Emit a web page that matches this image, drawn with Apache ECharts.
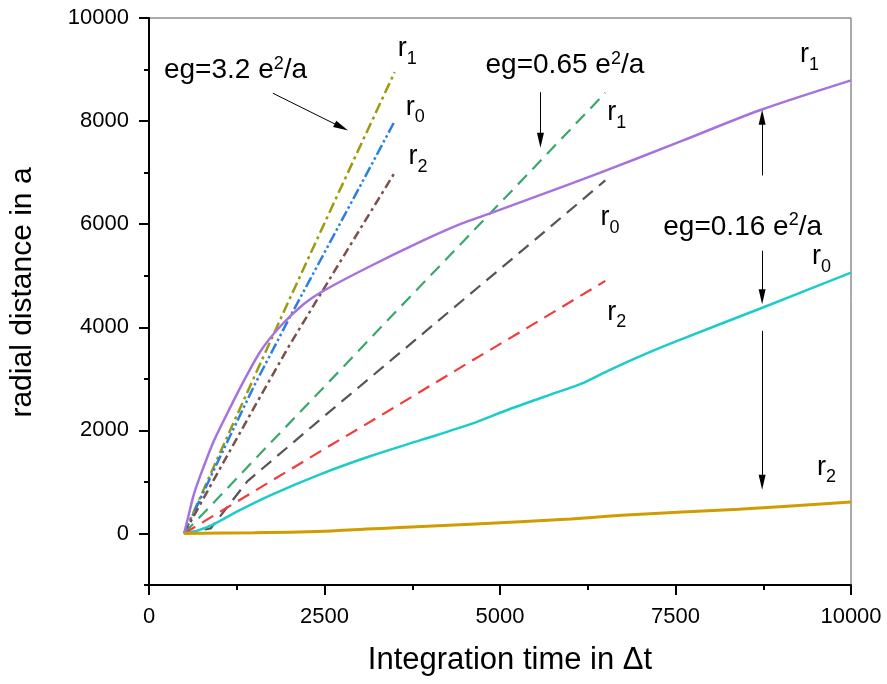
<!DOCTYPE html>
<html>
<head>
<meta charset="utf-8">
<script src="https://cdn.jsdelivr.net/npm/echarts@6/dist/echarts.min.js"></script>
<style>
  html, body { margin: 0; padding: 0; background: #fff; }
  #chart { width: 887px; height: 684px; }
</style>
</head>
<body>
<div id="chart"></div>
<script>
const FONT = '"Liberation Sans", Arial, Helvetica, sans-serif';

// ---- eg = 3.2 e^2/a (dash-dot curves) ----
const t32   = [500, 1000, 1500, 2000, 2500, 3000, 3500];
const r1_32 = [0, 1530, 3040, 4540, 6020, 7490, 8950];
const r0_32 = [0, 1450, 2870, 4180, 5450, 6720, 8000];
const r2_32 = [0, 1230, 2450, 3650, 4770, 5890, 7000];

// ---- eg = 0.65 e^2/a (dashed curves) ----
const t065_r1 = [500, 1000, 1500, 2500, 3500, 4500, 5500, 6500];
const r1_065  = [0, 710, 1430, 2850, 4280, 5700, 7120, 8550];
const t065_r0 = [500, 880, 1400, 2500, 3500, 4500, 5500, 6500];
const r0_065  = [0, 100, 1010, 2280, 3420, 4560, 5700, 6850];
const t065_r2 = [500, 1000, 1500, 2500, 3500, 4500, 5500, 6500];
const r2_065  = [0, 410, 820, 1640, 2450, 3270, 4080, 4900];

// ---- eg = 0.16 e^2/a (solid curves) ----
const t016_r1 = [500, 555, 640, 780, 925, 1166, 1351, 1593, 1878, 2205, 2450, 3100, 3900, 4450, 4820, 5480, 6430, 7600, 8700, 10000];
const r1_016  = [0, 300, 765, 1300, 1800, 2470, 2960, 3545, 4030, 4450, 4680, 5150, 5680, 6010, 6190, 6520, 7000, 7620, 8210, 8790];
const t016_r0 = [500, 700, 925, 1266, 1735, 2447, 3158, 3869, 4580, 5150, 5860, 6150, 6530, 7000, 7525, 8700, 10000];
const r0_016  = [0, 60, 180, 433, 745, 1152, 1502, 1810, 2120, 2420, 2760, 2900, 3150, 3440, 3735, 4360, 5060];
const t016_r2 = [500, 1500, 2600, 3500, 4580, 6000, 6800, 8400, 10000];
const r2_016  = [0, 15, 50, 110, 180, 280, 360, 470, 610];

// ---- axis ticks ----
const xTickValues  = [0, 2500, 5000, 7500, 10000];
const yMajorTicks  = [0, 2000, 4000, 6000, 8000, 10000];
const yMinorTicks  = [-1000, 1000, 3000, 5000, 7000, 9000];

// ---- annotation texts (data coordinates of the left edge / vertical middle) ----
const egLabels = [
  { x: 213,  y: 8979, value: '3.2' },
  { x: 4794, y: 9077, value: '0.65' },
  { x: 7326, y: 5946, value: '0.16' }
];
const rLabels = [
  { x: 3542, y: 9407, idx: '1' },
  { x: 3656, y: 8270, idx: '0' },
  { x: 3698, y: 7308, idx: '2' },
  { x: 6529, y: 8163, idx: '1' },
  { x: 6430, y: 6121, idx: '0' },
  { x: 6529, y: 4293, idx: '2' },
  { x: 9275, y: 9290, idx: '1' },
  { x: 9445, y: 5363, idx: '0' },
  { x: 9516, y: 1279, idx: '2' }
];
// arrows: start point, end point (the arrow head sits at the end)
const arrows = [
  [[1764, 8541], [2741, 7881]],
  [[5576, 8560], [5576, 7626]],
  [[8734, 6946], [8734, 8074]],
  [[8734, 5486], [8734, 4591]],
  [[8734, 3930], [8734, 992]]
];

function zip(xs, ys) { return xs.map((x, i) => [x, ys[i]]); }

function lineSeries(name, xs, ys, color, type, width, smooth) {
  return {
    name: name,
    type: 'line',
    data: zip(xs, ys),
    showSymbol: false,
    symbol: 'none',
    smooth: smooth || false,
    lineStyle: { color: color, width: width, type: type, cap: 'butt' },
    itemStyle: { color: color },
    emphasis: { disabled: true },
    z: 3
  };
}

const chart = echarts.init(document.getElementById('chart'), null, { renderer: 'canvas' });

const series = [
  lineSeries('r1 (3.2)', t32, r1_32, '#9b9b10', [11, 4, 3, 4], 2.5),
  lineSeries('r0 (3.2)', t32, r0_32, '#2a7fe6', [11, 3, 2.5, 3, 2.5, 3], 2.5),
  lineSeries('r2 (3.2)', t32, r2_32, '#7d4f4c', [9, 4, 3, 4], 2.5),
  lineSeries('r1 (0.65)', t065_r1, r1_065, '#3aa86a', [13, 8], 2.2),
  lineSeries('r0 (0.65)', t065_r0, r0_065, '#555555', [13, 8], 2.2),
  lineSeries('r2 (0.65)', t065_r2, r2_065, '#f03c3c', [13, 8], 2.2),
  lineSeries('r1 (0.16)', t016_r1, r1_016, '#a673de', 'solid', 2.5, 0.3),
  lineSeries('r0 (0.16)', t016_r0, r0_016, '#1ccbcc', 'solid', 2.5, 0.3),
  lineSeries('r2 (0.16)', t016_r2, r2_016, '#d09c00', 'solid', 3, 0.3)
];

// arrows drawn as mark lines in data space
series[series.length - 1].markLine = {
  silent: true,
  animation: false,
  symbol: ['none', 'triangle'],
  symbolSize: [7, 15],
  label: { show: false },
  lineStyle: { color: '#000', width: 1, type: 'solid' },
  emphasis: { disabled: true },
  data: arrows.map(a => [{ coord: a[0] }, { coord: a[1] }])
};

chart.setOption({
  animation: false,
  backgroundColor: '#fff',
  grid: {
    left: 148, right: 36, top: 18, bottom: 99,
    show: true, borderColor: '#555', borderWidth: 1, backgroundColor: 'transparent'
  },
  xAxis: {
    type: 'value',
    min: 0, max: 10000, interval: 2500,
    name: 'Integration time in \u0394t',
    nameLocation: 'middle',
    nameGap: 60,
    nameTextStyle: { fontFamily: FONT, fontSize: 31, color: '#000', padding: [0, 0, 0, 20] },
    axisLine: { show: true, onZero: false, lineStyle: { color: '#000', width: 2 } },
    axisTick: { show: true, inside: false, length: 10, lineStyle: { color: '#000', width: 2 } },
    minorTick: { show: true, splitNumber: 2, length: 5, lineStyle: { color: '#000', width: 2 } },
    axisLabel: {
      fontFamily: FONT, fontSize: 22, color: '#000', margin: 21,
      customValues: xTickValues,
      formatter: v => String(v)
    },
    splitLine: { show: false },
    minorSplitLine: { show: false }
  },
  yAxis: [
    {
      type: 'value',
      min: -1000, max: 10000,
      name: 'radial distance in a',
      nameLocation: 'middle',
      nameGap: 111,
      nameTextStyle: { fontFamily: FONT, fontSize: 30, color: '#000', padding: [0, 0, 0, 18] },
      axisLine: { show: true, onZero: false, lineStyle: { color: '#000', width: 2 } },
      axisTick: { show: true, inside: false, length: 10, customValues: yMajorTicks, lineStyle: { color: '#000', width: 2 } },
      axisLabel: {
        fontFamily: FONT, fontSize: 22, color: '#000', margin: 20,
        customValues: yMajorTicks,
        formatter: v => String(v)
      },
      splitLine: { show: false }
    },
    {
      // shorter ticks between the labelled ones
      type: 'value',
      min: -1000, max: 10000,
      position: 'left',
      axisLine: { show: false },
      axisTick: { show: true, inside: false, length: 5, customValues: yMinorTicks, lineStyle: { color: '#000', width: 2 } },
      axisLabel: { show: false },
      splitLine: { show: false }
    }
  ],
  series: series
});

// text annotations placed through the chart's own coordinate conversion
function px(pt) { return chart.convertToPixel({ gridIndex: 0 }, pt); }

const graphics = [];
egLabels.forEach(l => {
  const p = px([l.x, l.y]);
  graphics.push({
    type: 'text',
    x: p[0], y: p[1],
    z: 10,
    style: {
      text: 'eg=' + l.value + ' e{sup|2}/a',
      font: '28px ' + FONT,
      fill: '#000',
      align: 'left',
      verticalAlign: 'middle',
      lineHeight: 32,
      rich: {
        sup: { fontSize: 18, fontFamily: FONT, verticalAlign: 'top', lineHeight: 18, fill: '#000' }
      }
    }
  });
});
rLabels.forEach(l => {
  const p = px([l.x, l.y]);
  graphics.push({
    type: 'text',
    x: p[0], y: p[1],
    z: 10,
    style: {
      text: 'r{sub|' + l.idx + '}',
      font: '27px ' + FONT,
      fill: '#000',
      align: 'left',
      verticalAlign: 'middle',
      lineHeight: 38,
      rich: {
        sub: { fontSize: 18, fontFamily: FONT, verticalAlign: 'bottom', lineHeight: 18, fill: '#000' }
      }
    }
  });
});
chart.setOption({ graphic: graphics });
</script>
</body>
</html>
